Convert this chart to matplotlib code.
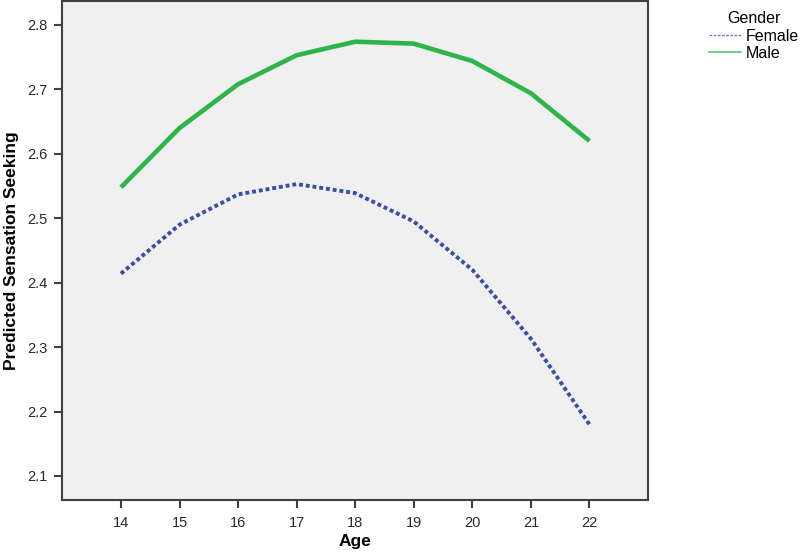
import matplotlib.pyplot as plt
from matplotlib.lines import Line2D

plt.rcParams['font.family'] = ['Liberation Sans', 'DejaVu Sans']

# Datos
edades = [14, 15, 16, 17, 18, 19, 20, 21, 22]
mujeres = [2.414, 2.490, 2.537, 2.553, 2.539, 2.495, 2.420, 2.313, 2.180]
hombres = [2.548, 2.640, 2.708, 2.753, 2.774, 2.771, 2.744, 2.694, 2.620]
ticks_y = [2.1, 2.2, 2.3, 2.4, 2.5, 2.6, 2.7, 2.8]

color_f = '#3a4ea8'
color_m = '#2db54b'

fig = plt.figure(figsize=(8, 5.53), dpi=100)
ax = fig.add_axes([0.078, 0.095, 0.732, 0.903])
ax.set_facecolor('#f0f0f0')

ax.plot(edades, mujeres, color=color_f, linewidth=2.8,
        linestyle=(0, (1.0, 0.75)), dash_capstyle='butt')
ax.plot(edades, hombres, color=color_m, linewidth=3.3,
        solid_capstyle='butt')

ax.set_xlim(13, 23)
ax.set_ylim(2.062, 2.837)
ax.set_xticks(edades)
ax.set_yticks(ticks_y)
ax.set_yticklabels([f'{v:.1f}' for v in ticks_y])

for lado in ax.spines.values():
    lado.set_color('#404040')
    lado.set_linewidth(1.5)
ax.tick_params(direction='out', length=6, width=1.5, color='#404040',
               labelsize=10.5, labelcolor='#2a2a2a', pad=5)

ax.set_xlabel('Age', fontsize=12.5, fontweight='bold', labelpad=3)
ax.set_ylabel('Predicted Sensation Seeking', fontsize=12.5,
              fontweight='bold', labelpad=6)

# Leyenda fuera del área del gráfico
manijas = [Line2D([], [], color='#7080c0', linewidth=1, linestyle=(0, (2, 1))),
           Line2D([], [], color='#60c070', linewidth=1.2)]
leg = fig.legend(manijas, ['Female', 'Male'], title='Gender',
                 loc='upper left', bbox_to_anchor=(0.872, 1.0),
                 frameon=False, fontsize=11.5, title_fontsize=11.5,
                 handlelength=2.0, handletextpad=0.3, labelspacing=0.15,
                 borderpad=0.2)

plt.savefig('out.png', dpi=100)
